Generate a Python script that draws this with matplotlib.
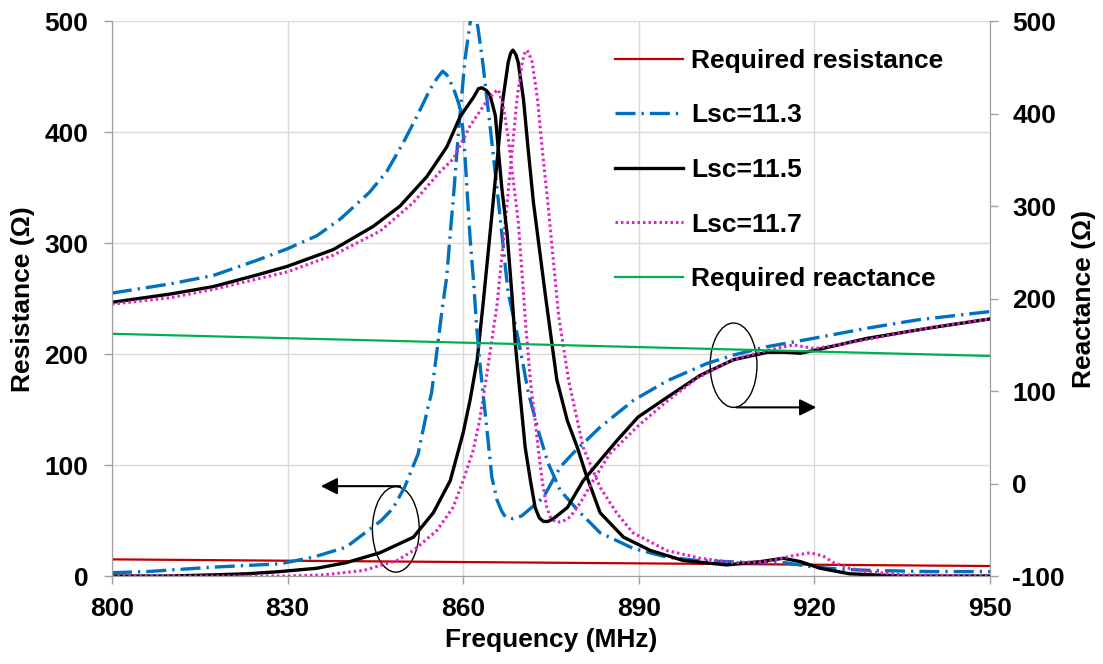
import matplotlib.pyplot as plt
from matplotlib.patches import Ellipse

# Resistance curves (left axis, ohm)
f_r113 = [800, 806, 817.3, 828.7, 834.4, 840, 846, 848, 850, 851.3, 852.3, 853.8, 854.6, 855.5, 856.4,
          857.2, 857.8, 858.3, 859.2, 860.3, 861.2, 861.8, 862.5, 863.3, 864.5, 866, 866.6, 867.2, 867.7,
          869.2, 870.3, 871.1, 872, 873, 874.5, 876.6, 880, 883.4, 889, 894.8, 900, 905, 910, 915, 920,
          925, 930, 940, 950]
r_113 = [3, 4, 8, 11, 17, 26, 50, 61, 80, 97, 110, 148, 165, 202, 240,
         270, 309, 339, 400, 465, 499, 512, 495, 465, 410, 339, 309, 279, 255,
         219, 189, 166, 148, 128, 102, 77, 57, 39, 25, 17, 14, 13, 12, 12, 8,
         6, 5, 4, 4]

f_r115 = [800, 810, 817, 823, 828.7, 835, 840, 845.8, 851.5, 854.9, 857.8, 860, 861.2, 862.4, 863.4,
          864.9, 866, 866.8, 867.7, 868.1, 868.5, 869, 869.4, 870.3, 871.1, 872, 874, 876, 877.8, 879.5,
          880.9, 883.4, 887.4, 892, 897.6, 905, 910.8, 914.7, 917.6, 921, 926, 935, 950]
r_115 = [0, 0, 1, 2, 4, 7, 12, 21, 35, 57, 86, 129, 159, 195, 245,
         325, 385, 430, 463, 471, 474, 470, 463, 430, 385, 337, 255, 177, 140, 116,
         93, 57, 35, 23, 14, 10, 13, 16, 13, 7, 2, 0, 0]

f_r117 = [800, 820, 830, 836, 843, 848.7, 851.5, 855.5, 858.3, 860, 861.7, 862.8, 864, 865.8, 867.3,
          868.4, 869.2, 870.1, 870.5, 870.9, 871.3, 871.8, 872.7, 873.5, 874.5, 876.3, 878, 880.5, 883.4,
          886.2, 889, 894.8, 900.5, 906.2, 912, 916, 919.3, 921.5, 923.3, 926, 929, 935, 950]
r_117 = [0, 0, 0, 1, 5, 14, 23, 41, 62, 86, 113, 140, 180, 245, 325,
         385, 430, 463, 471, 474, 470, 463, 430, 385, 335, 235, 177, 116, 80,
         57, 39, 23, 16, 12, 13, 18, 21, 18, 12, 7, 4, 1, 0]

# Reactance curves (right axis, ohm)
f_x113 = [800, 810, 817.3, 825, 830, 835, 839, 844, 847, 849.8, 852, 854.4, 855.5, 856.5, 857.2,
          858, 858.6, 859.3, 859.9, 860.3, 860.7, 861.2, 861.8, 862.3, 862.9, 863.5, 864.3, 864.9, 865.8,
          866.6, 867.2, 868.5, 870, 872.6, 873.7, 876.6, 878.8, 883.4, 889.1, 894.8, 901.7, 906.2, 911.9,
          919.8, 929, 937.6, 947.2, 950]
x_113 = [206, 216, 225, 242, 254, 268, 286, 315, 338, 369, 396, 427, 438, 446, 442,
         432, 423, 410, 386, 356, 314, 264, 217, 170, 127, 92, 44, 7, -18,
         -30, -36, -38, -35, -21, -15, 18, 33, 61, 90, 111, 130, 139, 148,
         157, 168, 177, 184, 186]

f_x115 = [800, 810, 817.3, 825, 830, 837.8, 844.6, 849.2, 853.8, 857.2, 859.5, 861.8, 862.6, 863.2, 864,
          864.6, 865.5, 866, 866.6, 867.5, 868.4, 868.9, 869.7, 870.6, 871.5, 872.3, 873, 873.7, 874.5,
          875.4, 877.8, 880.5, 883.4, 886.2, 889.9, 894.8, 900.5, 906.2, 912, 915, 917.6, 920, 929,
          940.4, 950]
x_115 = [196, 205, 213, 226, 235, 253, 278, 300, 332, 364, 397, 418, 427, 428, 425,
         420, 398, 362, 320, 271, 199, 152, 98, 39, 3, -26, -37, -41, -41,
         -38, -26, 3, 25, 46, 72, 93, 117, 134, 142, 142, 141, 144, 157,
         169, 178]

f_x117 = [800, 810, 817.3, 830, 837.8, 845.8, 851.5, 856, 858.3, 861.2, 863, 864.3, 865.3, 866, 866.8,
          867.7, 868.6, 869.4, 870.1, 870.7, 871.5, 872.3, 872.8, 873.5, 874.3, 875, 876, 877, 878.3,
          880, 882.2, 885, 890, 895, 900, 906, 912, 916.4, 920, 925, 930, 940, 950]
x_117 = [194, 201, 210, 229, 247, 273, 304, 337, 351, 387, 404, 416, 423, 426, 410,
         374, 326, 284, 224, 170, 110, 68, 39, 3, -26, -38, -42, -41, -36,
         -21, 3, 32, 63, 90, 114, 134, 144, 150, 146, 151, 157, 169, 178]

# Required values
f_req = [800, 850, 900, 950]
r_req = [15, 13, 11, 9]
f_req_x = [800, 875, 950]
x_req = [162, 150, 138]

BLUE = '#0070C0'
PINK = '#E020C0'
RED = '#C00000'
GREEN = '#00B050'
FONT = 'Liberation Sans'
FS = 19

plt.rcParams['font.family'] = [FONT, 'DejaVu Sans']
plt.rcParams['font.weight'] = 'bold'
plt.rcParams['axes.unicode_minus'] = False

fig = plt.figure(figsize=(11.03, 6.64), dpi=100)
ax = fig.add_axes([0.1015, 0.1325, 0.796, 0.8355])
ax2 = ax.twinx()

dashdot = (0, (6, 1.8, 0.7, 1.8))
dotted = (0, (0.8, 1.0))

l_req_r, = ax.plot(f_req, r_req, color=RED, lw=1.6, label='Required resistance')
l113, = ax.plot(f_r113, r_113, color=BLUE, lw=2.4, ls=dashdot, label='Lsc=11.3')
l115, = ax.plot(f_r115, r_115, color='k', lw=2.4, label='Lsc=11.5')
l117, = ax.plot(f_r117, r_117, color=PINK, lw=2.2, ls=dotted, label='Lsc=11.7')

ax2.plot(f_x113, x_113, color=BLUE, lw=2.4, ls=dashdot)
ax2.plot(f_x115, x_115, color='k', lw=2.4)
ax2.plot(f_x117, x_117, color=PINK, lw=2.2, ls=dotted)
l_req_x, = ax2.plot(f_req_x, x_req, color=GREEN, lw=1.6, label='Required reactance')

# Axes ranges and ticks
ax.set_xlim(800, 950)
ax.set_ylim(0, 500)
ax2.set_ylim(-100, 500)
ax.set_xticks(range(800, 951, 30))
ax.set_yticks(range(0, 501, 100))
ax2.set_yticks(range(-100, 501, 100))
ax.grid(True, color='#d9d9d9', lw=1)
ax.set_axisbelow(True)

for a in (ax, ax2):
    a.spines['top'].set_visible(False)
    for side in ('left', 'right', 'bottom'):
        a.spines[side].set_color('#a0a0a0')
    a.tick_params(color='#a0a0a0', length=6, width=1, labelsize=FS)
ax.tick_params(axis='y', pad=11)
ax2.tick_params(axis='y', pad=10)
ax.tick_params(axis='x', pad=9)

ax.set_xlabel('Frequency (MHz)', fontsize=FS, fontweight='bold')
ax.set_ylabel('Resistance (Ω)', fontsize=FS, fontweight='bold')
ax2.set_ylabel('Reactance (Ω)', fontsize=FS, fontweight='bold')
ax.xaxis.set_label_coords(0.5, -0.094)
ax.yaxis.set_label_coords(-0.088, 0.5)
ax2.yaxis.set_label_coords(1.093, 0.5)

# Ellipses and arrows marking which axis each group uses
ax.add_patch(Ellipse((848.5, 42), 8.0, 77, fill=False, lw=1, color='k'))
ax.annotate('', xy=(835.2, 81), xytext=(849.7, 81),
            arrowprops=dict(arrowstyle='-|>', color='k', lw=1.5, mutation_scale=25))
ax.add_patch(Ellipse((906.2, 190), 8.0, 76, fill=False, lw=1, color='k'))
ax.annotate('', xy=(920.8, 152), xytext=(906.2, 152),
            arrowprops=dict(arrowstyle='-|>', color='k', lw=1.5, mutation_scale=25))

handles = [l_req_r, l113, l115, l117, l_req_x]
ax2.legend(handles=handles, loc='upper left', bbox_to_anchor=(0.5455, 0.993), frameon=False,
           fontsize=FS, labelspacing=1.16, handlelength=2.6, handletextpad=0.3)

plt.savefig('out.png', dpi=100)
